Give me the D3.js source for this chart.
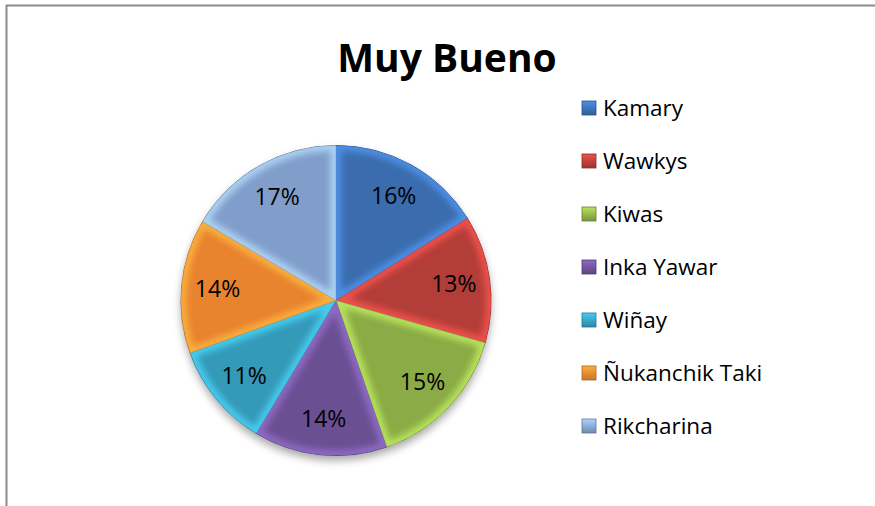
<!DOCTYPE html>
<html><head><meta charset="utf-8">
<script src="https://cdn.jsdelivr.net/npm/d3@7"></script>
<style>body{margin:0;background:#fff}svg{display:block}</style>
</head><body>
<script>
const categories = ["Kamary","Wawkys","Kiwas","Inka Yawar","Wiñay","Ñukanchik Taki","Rikcharina"];
const values = [16.1,13.3,15.3,13.9,10.9,14.0,16.5];
const labels = ["16%","13%","15%","14%","11%","14%","17%"];
const colors = ["#3a6cad","#b33c39","#8aab45","#6b5093","#3499b8","#e8832f","#819ecb"];
const title = "Muy Bueno";

const W=875,H=506;
const svg=d3.select("body").append("svg").attr("width",W).attr("height",H);
const defs=svg.append("defs");
const font="'Open Sans', sans-serif";

svg.append("rect").attr("width",W).attr("height",H).attr("fill","#fff");
svg.append("path").attr("d",`M6.5,${H} V5.5 H${W}`).attr("fill","none").attr("stroke","#8c8c8c").attr("stroke-width",2);

svg.append("text").attr("x",447).attr("y",72).attr("text-anchor","middle")
  .attr("font-family",font).attr("font-weight","bold").attr("font-size",39).attr("fill","#000").text(title);

const cx=336,cy=300.5,R=155;
const pie=d3.pie().sort(null).value(d=>d)(values);
const arc=d3.arc().innerRadius(0).outerRadius(R);
const labelArc=d3.arc().innerRadius(119).outerRadius(119);

// filters
const sh=defs.append("filter").attr("id","shadow").attr("x","-20%").attr("y","-20%").attr("width","140%").attr("height","150%");
sh.append("feGaussianBlur").attr("in","SourceAlpha").attr("stdDeviation",4);
sh.append("feOffset").attr("dy",5).attr("result","b");
sh.append("feComponentTransfer").append("feFuncA").attr("type","linear").attr("slope",0.35);
const m=sh.append("feMerge"); m.append("feMergeNode"); m.append("feMergeNode").attr("in","SourceGraphic");
const bl=defs.append("filter").attr("id","blur").attr("x","-20%").attr("y","-20%").attr("width","140%").attr("height","140%");
bl.append("feGaussianBlur").attr("stdDeviation",3);

const g=svg.append("g").attr("transform",`translate(${cx},${cy})`);
const base=g.append("g").attr("filter","url(#shadow)");
base.selectAll("path.s").data(pie).join("path").attr("class","s").attr("d",arc).attr("fill",(d,i)=>colors[i]);

pie.forEach((d,i)=>{
  defs.append("clipPath").attr("id","c"+i).append("path").attr("d",arc(d)).attr("transform",`translate(${cx},${cy})`);
});
const bev=svg.append("g");
pie.forEach((d,i)=>{
  const cg=bev.append("g").attr("clip-path",`url(#c${i})`);
  cg.append("path").attr("transform",`translate(${cx},${cy})`).attr("d",arc(d))
    .attr("fill","none").attr("stroke",d3.color(colors[i]).brighter(1.0)).attr("stroke-width",11)
    .attr("stroke-opacity",0.75).attr("filter","url(#blur)");
});
g.selectAll("path.o").data(pie).join("path").attr("class","o").attr("d",arc)
  .attr("fill","none").attr("stroke",(d,i)=>d3.color(colors[i]).darker(0.9)).attr("stroke-width",1);

g.selectAll("text.l").data(pie).join("text").attr("class","l")
  .attr("transform",d=>`translate(${labelArc.centroid(d)})`)
  .attr("text-anchor","middle").attr("dy","0.35em")
  .attr("font-family",font).attr("font-size",23).attr("fill","#000")
  .text((d,i)=>labels[i]);

const lg=svg.append("g");
categories.forEach((c,i)=>{
  const y=108+i*53;
  const gr=defs.append("linearGradient").attr("id","lg"+i).attr("x1",0).attr("y1",0).attr("x2",0).attr("y2",1);
  gr.append("stop").attr("offset","0").attr("stop-color",d3.color(colors[i]).brighter(0.8));
  gr.append("stop").attr("offset","1").attr("stop-color",d3.color(colors[i]).darker(0.4));
  lg.append("rect").attr("x",582).attr("y",y-7).attr("width",14).attr("height",14)
    .attr("fill",`url(#lg${i})`).attr("stroke",d3.color(colors[i]).darker(0.8)).attr("stroke-width",0.8);
  lg.append("text").attr("x",603).attr("y",y).attr("dy","0.35em")
    .attr("font-family",font).attr("font-size",22.5).attr("fill","#000").text(c);
});
</script>
</body></html>
